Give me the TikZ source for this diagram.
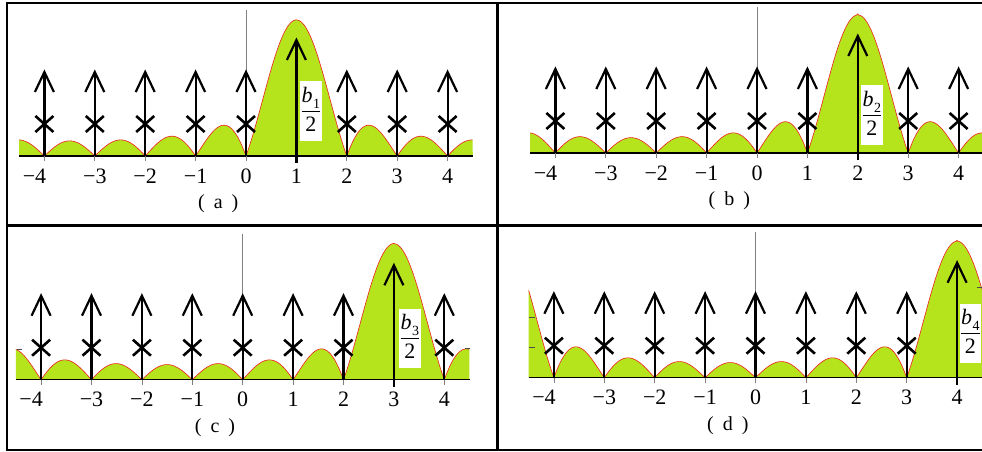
\documentclass[tikz,border=0pt]{standalone}
\usepackage{fontspec}
\setmainfont{Liberation Serif}
\setlength{\arrayrulewidth}{0.9pt}
\definecolor{lobe}{RGB}{181,228,29}
\definecolor{lobeedge}{RGB}{240,30,30}
\def\unitpx{50.4}
\newcommand\specpanel[8]{%
% #1 origin x, #2 baseline y, #3 main index, #4 peak height, #5 main arrow height,
% #6 label box left x, #7 label box centre y, #8 panel letter
  \fill[lobe] ({#1-4.5*\unitpx},#2) -- plot[domain=-4.5:4.5,samples=451] ({#1+\unitpx*\x},{#2-#4*dk(\x-#3)}) -- ({#1+4.5*\unitpx},#2) -- cycle;
  \draw[lobeline] plot[domain=-4.5:4.5,samples=451] ({#1+\unitpx*\x},{#2-#4*dk(\x-#3)});
  \draw[axisline] ({#1-4.5*\unitpx},#2) -- ({#1+4.5*\unitpx},#2);
  \draw[zeroline] (#1,#2) -- (#1,#2-146);
  \foreach \i in {-4,...,4}{%
    \draw[tickline] ({#1+\unitpx*\i},#2) -- ({#1+\unitpx*\i},#2+5);
    \ifnum\i=#3\relax
      \draw[arrowline] ({#1+\unitpx*\i},#2+7) -- ({#1+\unitpx*\i},#2-#5);
      \draw[headline] ({#1+\unitpx*\i-9.5},#2-#5+20) -- ({#1+\unitpx*\i},#2-#5) -- ({#1+\unitpx*\i+9.5},#2-#5+20);
    \else
      \draw[arrowline] ({#1+\unitpx*\i},#2) -- ({#1+\unitpx*\i},#2-84);
      \draw[headline] ({#1+\unitpx*\i-9.5},#2-64) -- ({#1+\unitpx*\i},#2-84) -- ({#1+\unitpx*\i+9.5},#2-64);
      \draw[crossline] ({#1+\unitpx*\i-9},#2-40) -- ({#1+\unitpx*\i+9},#2-24);
      \draw[crossline] ({#1+\unitpx*\i-9},#2-24) -- ({#1+\unitpx*\i+9},#2-40);
    \fi
    \ifnum\i=-4\relax
      \node[ticklab,anchor=east] (t#8\i) at ({#1+\unitpx*\i+2},#2+20) {−4};
    \else
      \ifnum\i<0\relax
        \node[ticklab] (t#8\i) at ({#1+\unitpx*\i},#2+20) {−\the\numexpr-\i\relax};
      \else
        \node[ticklab] (t#8\i) at ({#1+\unitpx*\i},#2+20) {\i};
      \fi
    \fi
  }
  \node[fracbox,anchor=west] (f#8) at (#6,#7) {\begin{tabular}{@{}c@{}}\textit{b}\kern0.3pt\raisebox{-0.28em}{\fontsize{14}{14}\selectfont #3}\\\hline 2\end{tabular}};
  \node[captionlab] (c#8) at ({#1-0.55*\unitpx},#2+48) {(\hspace{0.45em}#8\hspace{0.45em})};
}
\begin{document}
\begin{tikzpicture}[x=1pt,y=-1pt,
  frameline/.style={line width=2.2pt},
  axisline/.style={line width=1.2pt},
  zeroline/.style={line width=0.8pt,gray},
  tickline/.style={line width=0.8pt,gray},
  lobeline/.style={line width=0.6pt,lobeedge},
  arrowline/.style={line width=2.2pt},
  headline/.style={line width=2.2pt,line join=miter},
  crossline/.style={line width=2.6pt},
  edgetick/.style={line width=0.8pt,black!70},
  ticklab/.style={font=\fontsize{22}{24}\selectfont,inner sep=0pt},
  captionlab/.style={font=\fontsize{20}{22}\selectfont,inner sep=0pt},
  fracbox/.style={fill=white,inner sep=1.5pt,font=\fontsize{22}{28}\selectfont},
  declare function={dk(\u)=abs(sin(180*\u)/(9*sin(20*\u)+(abs(\u)<0.001)))+(abs(\u)<0.001);}
]
\useasboundingbox (0,0) rectangle (982,452);
\specpanel{246}{156}{1}{136}{116}{300}{111}{a}
\specpanel{757}{153}{2}{138}{117}{861}{115}{b}
\specpanel{242.7}{379.7}{3}{136}{114.4}{399}{338.5}{c}
\specpanel{755.5}{377.7}{4}{136.4}{115}{959.5}{333.5}{d}
% small axis ticks at the plot edges
\draw[edgetick] (16.7,349.5) -- (22,349.5);
\draw[edgetick] (469.5,348) -- (464.5,348);
\draw[edgetick] (529.3,317.3) -- (535,317.3);
\draw[edgetick] (529.3,347.3) -- (535,347.3);
\draw[edgetick] (982,287) -- (977,287);
% frame
\draw[frameline] (7,3) -- (982,3);
\draw[frameline] (7,450) -- (982,450);
\draw[frameline] (7,225.5) -- (982,225.5);
\draw[frameline] (7,2) -- (7,451);
\draw[frameline] (497.5,2) -- (497.5,451);
\end{tikzpicture}
\end{document}
